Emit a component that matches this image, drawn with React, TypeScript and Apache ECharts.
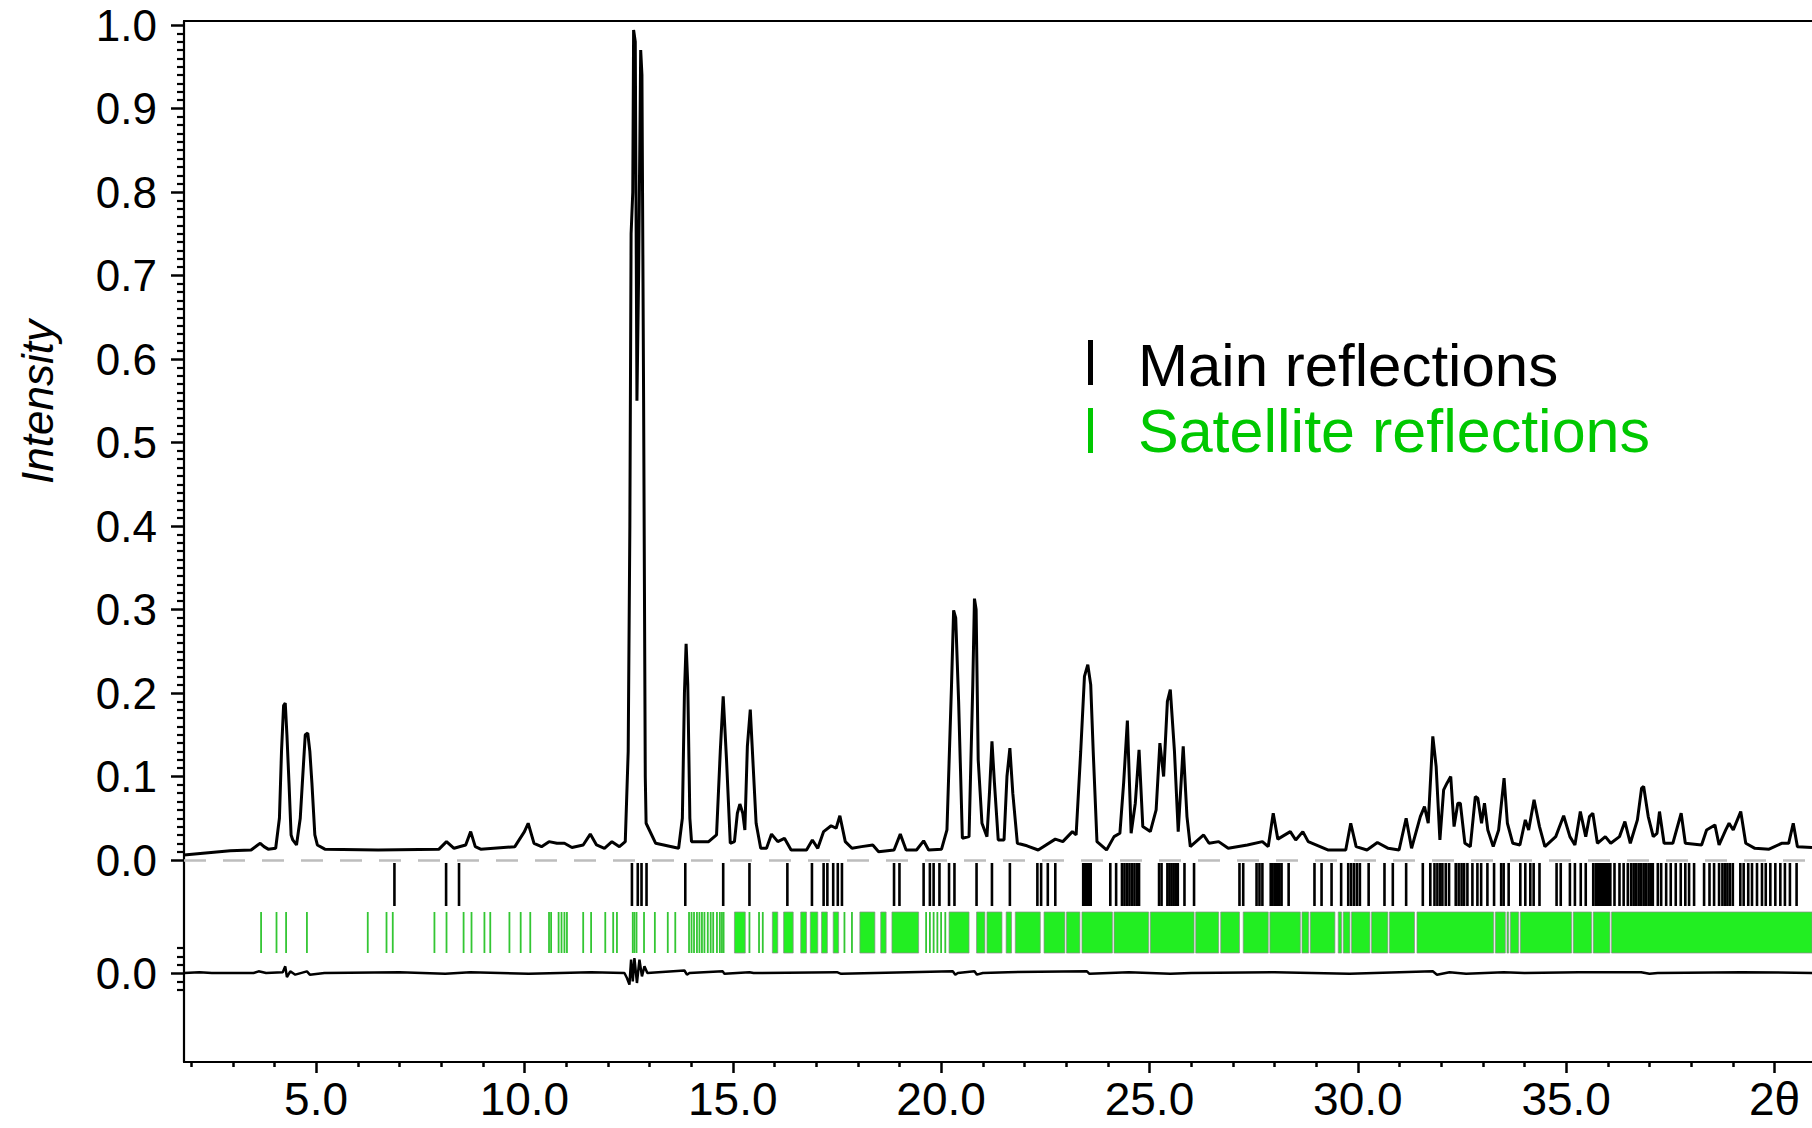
import React, { useEffect, useRef } from "react";
import * as echarts from "echarts";

// ---------- data ----------
const X_MIN = 1.83;
const X_MAX = 40.9;

const xMajorTicks = [5, 10, 15, 20, 25, 30, 35, 40];
const xMinorTicks = [2, 3, 4, 6, 7, 8, 9, 11, 12, 13, 14, 16, 17, 18, 19, 21, 22, 23, 24, 26, 27, 28, 29, 31, 32, 33, 34, 36, 37, 38, 39];
const diffMajorTicks = [0];
const diffMinorTicks = [-0.02, -0.01, 0.01, 0.02, 0.03];

// observed/calculated profile [2theta, intensity]
const profile: number[][] = [
  [1.83, 0.006], [2.48, 0.009], [2.94, 0.011], [3.44, 0.012], [3.6, 0.018], [3.66, 0.02], [3.75, 0.016], [3.85, 0.013],
  [4.03, 0.014], [4.12, 0.05], [4.17, 0.13], [4.22, 0.185], [4.26, 0.188], [4.3, 0.15], [4.35, 0.092], [4.4, 0.03],
  [4.44, 0.024], [4.53, 0.018], [4.62, 0.05], [4.67, 0.092], [4.74, 0.15], [4.8, 0.152], [4.85, 0.13], [4.9, 0.092],
  [4.97, 0.03], [5.03, 0.018], [5.21, 0.013], [6.49, 0.012], [7.95, 0.013], [8.13, 0.022], [8.31, 0.014], [8.59, 0.018],
  [8.71, 0.034], [8.82, 0.016], [8.95, 0.013], [9.77, 0.016], [10.0, 0.034], [10.09, 0.044], [10.23, 0.02], [10.41, 0.016],
  [10.59, 0.022], [10.78, 0.02], [10.96, 0.02], [11.14, 0.015], [11.41, 0.018], [11.58, 0.031], [11.73, 0.018], [11.92, 0.014],
  [12.1, 0.022], [12.28, 0.016], [12.42, 0.022], [12.49, 0.13], [12.53, 0.4], [12.56, 0.75], [12.6, 0.8], [12.62, 0.994],
  [12.66, 0.98], [12.7, 0.55], [12.74, 0.7], [12.79, 0.97], [12.82, 0.94], [12.86, 0.55], [12.9, 0.1], [12.92, 0.044],
  [13.15, 0.02], [13.7, 0.014], [13.79, 0.05], [13.84, 0.2], [13.88, 0.259], [13.92, 0.21], [13.97, 0.05], [14.01, 0.022],
  [14.42, 0.022], [14.61, 0.03], [14.7, 0.13], [14.77, 0.196], [14.85, 0.12], [14.94, 0.02], [15.04, 0.022], [15.11, 0.056],
  [15.17, 0.067], [15.24, 0.056], [15.29, 0.036], [15.35, 0.136], [15.42, 0.18], [15.49, 0.112], [15.56, 0.044], [15.67, 0.014],
  [15.81, 0.014], [15.93, 0.031], [16.08, 0.022], [16.24, 0.026], [16.4, 0.012], [16.77, 0.012], [16.91, 0.024], [17.04, 0.014],
  [17.18, 0.034], [17.36, 0.041], [17.48, 0.038], [17.57, 0.053], [17.7, 0.022], [17.86, 0.014], [18.09, 0.016], [18.36, 0.018],
  [18.5, 0.01], [18.87, 0.012], [19.02, 0.031], [19.16, 0.012], [19.41, 0.012], [19.58, 0.023], [19.7, 0.012], [20.01, 0.013],
  [20.14, 0.036], [20.25, 0.21], [20.3, 0.299], [20.35, 0.29], [20.42, 0.19], [20.51, 0.026], [20.67, 0.028], [20.76, 0.21],
  [20.8, 0.313], [20.84, 0.3], [20.89, 0.12], [20.98, 0.044], [21.1, 0.028], [21.16, 0.08], [21.22, 0.142], [21.28, 0.092],
  [21.37, 0.024], [21.51, 0.024], [21.58, 0.1], [21.65, 0.134], [21.72, 0.08], [21.83, 0.02], [22.06, 0.017], [22.33, 0.012],
  [22.74, 0.025], [22.92, 0.022], [23.15, 0.034], [23.24, 0.03], [23.35, 0.13], [23.44, 0.22], [23.52, 0.234], [23.59, 0.21],
  [23.65, 0.13], [23.74, 0.022], [23.97, 0.012], [24.15, 0.028], [24.29, 0.032], [24.38, 0.092], [24.47, 0.167], [24.56, 0.032],
  [24.66, 0.068], [24.75, 0.132], [24.84, 0.04], [25.02, 0.034], [25.16, 0.06], [25.25, 0.14], [25.34, 0.1], [25.43, 0.19],
  [25.5, 0.204], [25.6, 0.13], [25.69, 0.034], [25.81, 0.136], [25.9, 0.052], [25.98, 0.016], [26.3, 0.03], [26.43, 0.02],
  [26.66, 0.022], [26.89, 0.014], [27.35, 0.018], [27.71, 0.022], [27.85, 0.016], [27.97, 0.056], [28.08, 0.025], [28.38, 0.034],
  [28.51, 0.024], [28.68, 0.034], [28.81, 0.022], [29.28, 0.012], [29.71, 0.012], [29.83, 0.044], [29.96, 0.016], [30.22, 0.012],
  [30.47, 0.021], [30.73, 0.014], [30.99, 0.012], [31.16, 0.05], [31.29, 0.014], [31.5, 0.052], [31.6, 0.064], [31.69, 0.044],
  [31.8, 0.148], [31.88, 0.112], [31.97, 0.024], [32.06, 0.084], [32.14, 0.092], [32.23, 0.1], [32.31, 0.04], [32.4, 0.068],
  [32.46, 0.068], [32.57, 0.02], [32.7, 0.016], [32.82, 0.076], [32.88, 0.074], [32.97, 0.044], [33.04, 0.068], [33.12, 0.036],
  [33.25, 0.016], [33.38, 0.036], [33.51, 0.098], [33.59, 0.044], [33.72, 0.02], [33.89, 0.018], [34.02, 0.048], [34.1, 0.036],
  [34.23, 0.072], [34.36, 0.04], [34.49, 0.016], [34.75, 0.028], [34.94, 0.053], [35.09, 0.028], [35.21, 0.018], [35.34, 0.058],
  [35.47, 0.028], [35.56, 0.052], [35.64, 0.056], [35.75, 0.02], [35.94, 0.028], [36.07, 0.02], [36.28, 0.028], [36.41, 0.046],
  [36.54, 0.02], [36.71, 0.048], [36.81, 0.086], [36.86, 0.088], [36.97, 0.052], [37.09, 0.028], [37.18, 0.032], [37.24, 0.058],
  [37.35, 0.02], [37.56, 0.02], [37.76, 0.056], [37.86, 0.02], [38.25, 0.018], [38.37, 0.036], [38.57, 0.042], [38.67, 0.018],
  [38.83, 0.036], [38.91, 0.044], [39.01, 0.036], [39.19, 0.058], [39.31, 0.02], [39.53, 0.014], [39.87, 0.013], [40.17, 0.02],
  [40.34, 0.02], [40.45, 0.044], [40.55, 0.016], [40.9, 0.015],
];

// difference curve [2theta, obs-calc]
const difference: number[][] = [
  [1.83, 0], [2.2, 0.001], [2.5, 0], [3.5, 0], [3.62, 0.002], [3.8, 0], [4.2, 0.001], [4.26, 0.008], [4.3, -0.005], [4.38, 0.002],
  [4.5, -0.002], [4.78, 0.002], [4.85, -0.002], [5.2, 0], [7.0, 0.001], [8.1, -0.001], [8.7, 0.001], [10.1, -0.001],
  [11.6, 0.001], [12.4, 0], [12.46, -0.006], [12.52, -0.014], [12.56, 0.016], [12.6, -0.01],
  [12.64, 0.018], [12.7, -0.012], [12.76, 0.016], [12.82, -0.004], [12.88, 0.008], [12.95, 0], [13.84, 0.003],
  [13.9, -0.002], [13.96, 0], [14.76, 0.002], [14.8, -0.001], [15.4, 0.001], [15.5, 0], [17.5, 0.001], [17.6, -0.001],
  [20.28, 0.002], [20.34, -0.002], [20.4, 0], [20.8, 0.002], [20.86, -0.002], [21, 0], [21.6, 0.001], [23.5, 0.002],
  [23.56, -0.001], [24.5, 0.001], [25.5, -0.001], [26, 0], [28.0, 0.001], [29.8, -0.001], [31.8, 0.002], [31.9, -0.002],
  [32.2, 0.001], [32.6, -0.001], [33.5, 0.001], [34, 0], [35.3, 0.001], [36.8, 0.001], [37, -0.001], [37.2, 0],
  [39.2, 0.001], [40.9, 0],
];

// main reflection positions
const mainReflections = [
  6.88, 8.12, 8.43, 12.58, 12.72, 12.81, 12.93, 13.86, 14.77, 15.4, 16.31, 16.9, 17.18, 17.27, 17.41, 17.52, 17.62,
  18.87, 19.0, 19.58, 19.73, 19.82, 19.96, 20.19, 20.32, 20.85, 21.22, 21.65, 22.31, 22.4, 22.56, 22.74, 23.41, 23.45,
  23.5, 23.55, 23.59, 24.06, 24.2, 24.34, 24.4, 24.46, 24.52, 24.58, 24.64, 24.7, 24.75, 25.23, 25.29, 25.43, 25.48,
  25.53, 25.58, 25.63, 25.68, 25.84, 26.07, 27.16, 27.25, 27.57, 27.64, 27.71, 27.91, 27.95, 28.0, 28.04, 28.08, 28.12,
  28.17, 28.34, 28.96, 29.13, 29.37, 29.6, 29.77, 29.84, 29.91, 29.98, 30.05, 30.26, 30.64, 30.84, 31.16, 31.56, 31.74,
  31.84, 31.91, 31.98, 32.03, 32.11, 32.19, 32.35, 32.42, 32.49, 32.55, 32.63, 32.75, 32.87, 32.96, 33.11, 33.27, 33.44,
  33.5, 33.62, 33.9, 34.02, 34.14, 34.22, 34.36, 34.77, 34.87, 35.09, 35.21, 35.35, 35.47, 35.65, 35.71, 35.77, 35.81,
  35.86, 35.91, 35.96, 36.01, 36.06, 36.16, 36.28, 36.38, 36.48, 36.56, 36.62, 36.68, 36.74, 36.8, 36.86, 36.92, 36.98,
  37.04, 37.08, 37.2, 37.28, 37.4, 37.51, 37.63, 37.75, 37.86, 37.95, 38.07, 38.31, 38.44, 38.55, 38.67, 38.75, 38.81,
  38.87, 38.93, 39.0, 39.18, 39.26, 39.37, 39.46, 39.58, 39.7, 39.79, 39.9, 40.02, 40.14, 40.25, 40.37, 40.53,
];

// isolated satellite reflections
const satelliteReflections = [
  3.68, 4.05, 4.28, 4.78, 6.24, 6.69, 6.84, 7.84, 8.13, 8.54, 8.73, 9.04, 9.18, 9.64, 9.91, 10.14, 10.59, 10.64, 10.82,
  10.89, 10.96, 11.02, 11.41, 11.6, 11.94, 12.13, 12.22, 12.6, 12.64, 12.69, 12.87, 13.13, 13.44, 13.62, 13.95, 14.01,
  14.07, 14.14, 14.2, 14.26, 14.32, 14.4, 14.47, 14.53, 14.62, 14.69, 14.74, 14.78, 15.4, 15.63, 15.72, 17.68, 17.86,
  19.64, 19.73, 19.82, 19.91, 20.0, 20.1,
];

// dense runs of satellite reflections [from, to]
const satelliteBands: number[][] = [
  [15.04, 15.3], [15.95, 16.08], [16.22, 16.45], [16.63, 16.77], [16.86, 17.04], [17.13, 17.27], [17.41, 17.54],
  [18.05, 18.41], [18.55, 18.68], [18.82, 19.46], [20.19, 20.67], [20.85, 21.05], [21.1, 21.46], [21.56, 21.69],
  [21.78, 22.38], [22.47, 22.97], [23.01, 23.33], [23.38, 24.11], [24.15, 24.98], [25.02, 26.07], [26.11, 26.66],
  [26.71, 27.16], [27.25, 27.85], [27.89, 28.62], [28.66, 28.82], [28.86, 29.45], [29.53, 29.61], [29.65, 29.81],
  [29.85, 30.29], [30.33, 30.72], [30.76, 31.36], [31.42, 33.26], [33.3, 33.54], [33.58, 33.62], [33.66, 33.86],
  [33.9, 35.13], [35.17, 35.61], [35.65, 36.05], [36.09, 40.9],
];

const FONT = "'Liberation Sans', Arial, Helvetica, sans-serif";

export default function App() {
  const ref = useRef<HTMLDivElement>(null);

  useEffect(() => {
    document.body.style.margin = "0";
    if (!ref.current) return;
    const chart = echarts.init(ref.current, null, { renderer: "svg" });

    const gl = 184;
    const gw = 1640;
    const hiddenX = (gridIndex: number) => ({
      type: "value", gridIndex, min: X_MIN, max: X_MAX, show: false,
      axisLine: { onZero: false },
    });

    const lineRender = (y1: number, y2: number, color: string, w: number) =>
      (params: any, api: any) => {
        const x = api.value(0);
        const p1 = api.coord([x, y1]);
        const p2 = api.coord([x, y2]);
        return {
          type: "line",
          shape: { x1: p1[0], y1: p1[1], x2: p2[0], y2: p2[1] },
          style: { stroke: color, lineWidth: w },
        };
      };

    const option: any = {
      animation: false,
      backgroundColor: "#fff",
      grid: [
        { left: gl, top: 21, width: gw, height: 1041 },
        { left: gl, top: 25, width: gw, height: 835 },
        { left: gl, top: 860, width: gw, height: 100 },
        { left: gl, top: 948, width: gw, height: 50 },
      ],
      xAxis: [
        {
          type: "value", gridIndex: 0, min: X_MIN, max: X_MAX, position: "bottom",
          axisLine: { show: true, onZero: false, lineStyle: { color: "#000", width: 2.2 } },
          axisTick: { show: true, customValues: xMajorTicks, length: 11, lineStyle: { color: "#000", width: 2.5 } },
          axisLabel: {
            show: true, customValues: xMajorTicks, color: "#000", fontSize: 46, fontFamily: FONT, margin: 14,
            formatter: (v: number) => (v === 40 ? "2θ" : v.toFixed(1)),
          },
          splitLine: { show: false },
        },
        {
          type: "value", gridIndex: 0, min: X_MIN, max: X_MAX, position: "bottom",
          axisLine: { show: false, onZero: false },
          axisTick: { show: true, customValues: xMinorTicks, length: 5, lineStyle: { color: "#000", width: 2.5 } },
          axisLabel: { show: false },
          splitLine: { show: false },
        },
        {
          type: "value", gridIndex: 0, min: X_MIN, max: X_MAX, position: "top",
          axisLine: { show: true, onZero: false, lineStyle: { color: "#000", width: 2.2 } },
          axisTick: { show: false }, axisLabel: { show: false }, splitLine: { show: false },
        },
        hiddenX(1),
        hiddenX(2),
        hiddenX(3),
      ],
      yAxis: [
        {
          type: "value", gridIndex: 0, min: 0, max: 1, position: "left",
          axisLine: { show: true, onZero: false, lineStyle: { color: "#000", width: 2.2 } },
          axisTick: { show: false }, axisLabel: { show: false }, splitLine: { show: false },
        },
        {
          type: "value", gridIndex: 1, min: 0, max: 1, interval: 0.1, position: "left",
          axisLine: { show: false, onZero: false },
          axisTick: { show: true, length: 13, lineStyle: { color: "#000", width: 2.5 } },
          minorTick: { show: true, splitNumber: 10, length: 7, lineStyle: { color: "#000", width: 2.2 } },
          axisLabel: {
            show: true, color: "#000", fontSize: 44, fontFamily: FONT, margin: 27,
            padding: [10, 0, 0, 0],
            formatter: (v: number) => v.toFixed(1),
          },
          splitLine: { show: false }, minorSplitLine: { show: false },
        },
        { type: "value", gridIndex: 2, min: 0, max: 100, inverse: true, show: false, axisLine: { onZero: false } },
        {
          type: "value", gridIndex: 3, min: -0.03, max: 0.03, position: "left",
          axisLine: { show: false, onZero: false },
          axisTick: { show: true, customValues: diffMajorTicks, length: 13, lineStyle: { color: "#000", width: 2.5 } },
          axisLabel: {
            show: true, customValues: diffMajorTicks, color: "#000", fontSize: 44, fontFamily: FONT, margin: 27,
            padding: [10, 0, 0, 0],
            formatter: (v: number) => v.toFixed(1),
          },
          splitLine: { show: false },
        },
        {
          type: "value", gridIndex: 3, min: -0.03, max: 0.03, position: "left",
          axisLine: { show: false, onZero: false },
          axisTick: { show: true, customValues: diffMinorTicks, length: 7, lineStyle: { color: "#000", width: 2.2 } },
          axisLabel: { show: false },
          splitLine: { show: false },
        },
      ],
      series: [
        {
          name: "profile", type: "line", xAxisIndex: 3, yAxisIndex: 1, data: profile,
          symbol: "none", lineStyle: { color: "#000", width: 3 }, z: 5,
          markLine: {
            silent: true, symbol: ["none", "none"], label: { show: false },
            lineStyle: { color: "#bdbdbd", width: 2.5, type: [22, 17] },
            data: [{ yAxis: 0 }],
          },
        },
        {
          name: "Satellite bands", type: "custom", xAxisIndex: 4, yAxisIndex: 2,
          data: satelliteBands, encode: { x: [0, 1] },
          renderItem: (params: any, api: any) => {
            const a = api.coord([api.value(0), 52]);
            const b = api.coord([api.value(1), 93]);
            return {
              type: "rect",
              shape: { x: a[0], y: a[1], width: b[0] - a[0], height: b[1] - a[1] },
              style: { fill: "#22ee22", stroke: "#8a8a8a", lineWidth: 0.7 },
            };
          },
        },
        {
          name: "Satellite reflections", type: "custom", xAxisIndex: 4, yAxisIndex: 2,
          data: satelliteReflections.map((v) => [v, 0]), encode: { x: 0, y: 1 },
          renderItem: lineRender(52, 93, "#33c633", 1.8),
        },
        {
          name: "Main reflections", type: "custom", xAxisIndex: 4, yAxisIndex: 2,
          data: mainReflections.map((v) => [v, 0]), encode: { x: 0, y: 1 },
          renderItem: lineRender(3, 46, "#000", 2.6),
        },
        {
          name: "difference", type: "line", xAxisIndex: 5, yAxisIndex: 3, data: difference,
          symbol: "none", lineStyle: { color: "#000", width: 2.5 },
        },
      ],
      graphic: [
        {
          type: "text", x: 37, y: 402, rotation: Math.PI / 2,
          style: {
            text: "Intensity", fill: "#000", fontSize: 44, fontStyle: "italic", fontFamily: FONT,
            align: "center", verticalAlign: "middle",
          },
        },
        { type: "rect", shape: { x: 1088, y: 340, width: 5, height: 45 }, style: { fill: "#000" } },
        {
          type: "text", x: 1138, y: 365,
          style: { text: "Main reflections", fill: "#000", fontSize: 60, fontFamily: FONT, align: "left", verticalAlign: "middle" },
        },
        { type: "rect", shape: { x: 1088, y: 408, width: 5, height: 45 }, style: { fill: "#00c800" } },
        {
          type: "text", x: 1138, y: 431,
          style: { text: "Satellite reflections", fill: "#00c800", fontSize: 61, fontFamily: FONT, align: "left", verticalAlign: "middle" },
        },
      ],
    };

    chart.setOption(option);
    return () => chart.dispose();
  }, []);

  return <div ref={ref} style={{ width: 1812, height: 1128 }} />;
}
